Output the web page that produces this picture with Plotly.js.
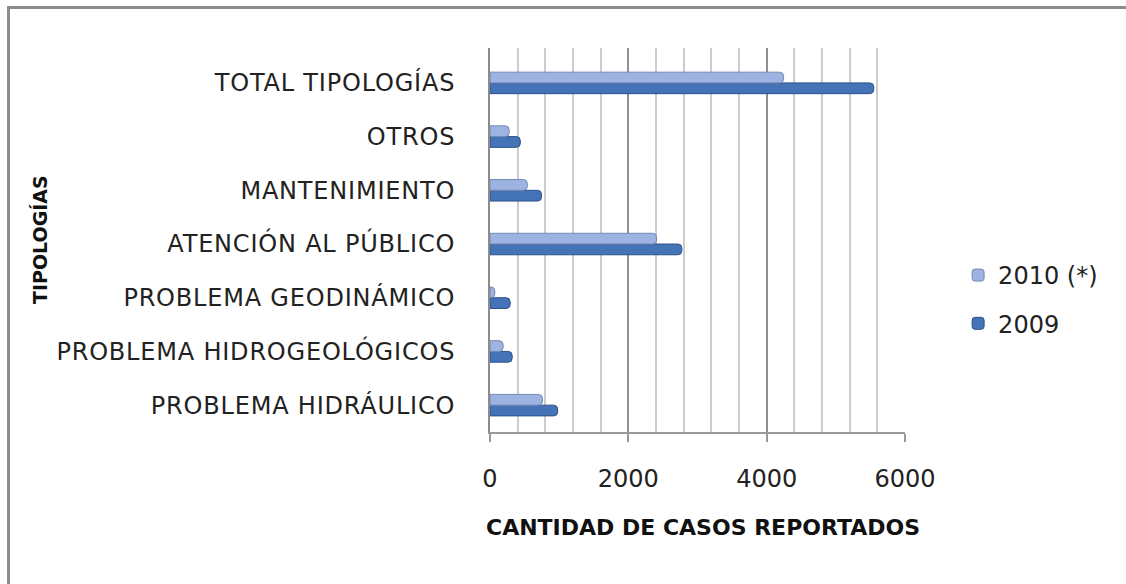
<!DOCTYPE html>
<html>
<head>
<meta charset="utf-8">
<script src="https://cdn.plot.ly/plotly-3.0.1.min.js"></script>
<style>
  html, body { margin: 0; padding: 0; background: #fff; }
  #wrap { position: relative; width: 1126px; height: 584px; overflow: hidden; }
  #chart { position: absolute; left: 0; top: 0; width: 1126px; height: 584px; }
  #frame { position: absolute; left: 7px; top: 6px; width: 1200px; height: 700px;
           border-left: 3px solid #8c8c8c; border-top: 3px solid #8c8c8c; pointer-events: none; }
  .ytick text { letter-spacing: 0.8px; }
</style>
</head>
<body>
<div id="wrap">
  <div id="chart"></div>
  <div id="frame"></div>
</div>
<script>
const categories = [
  "PROBLEMA HIDRÁULICO",
  "PROBLEMA HIDROGEOLÓGICOS",
  "PROBLEMA GEODINÁMICO",
  "ATENCIÓN AL PÚBLICO",
  "MANTENIMIENTO",
  "OTROS",
  "TOTAL TIPOLOGÍAS"
];
const values2009 = [978, 321, 292, 2774, 745, 438, 5548];
const values2010 = [759, 190, 70, 2409, 540, 277, 4245];
const seriesNames = ["2009", "2010 (*)"];
const xTicks = [0, 2000, 4000, 6000];

const font = "DejaVu Sans, sans-serif";

const traces = [
  {
    type: "bar", orientation: "h", name: seriesNames[0],
    y: categories, x: values2009, legendgroup: "a", legendrank: 2,
    marker: { color: "#4573b8", line: { color: "#2c5188", width: 1 }, cornerradius: 4 }
  },
  {
    type: "bar", orientation: "h", name: seriesNames[1],
    y: categories, x: values2010, legendgroup: "b", legendrank: 1,
    marker: { color: "#9db4e2", line: { color: "#7489b3", width: 1 }, cornerradius: 4 }
  }
];

const layout = {
  width: 1126, height: 584,
  margin: { l: 490, r: 221, t: 48, b: 152 },
  paper_bgcolor: "rgba(0,0,0,0)", plot_bgcolor: "rgba(0,0,0,0)",
  barmode: "group", bargap: 0.6, bargroupgap: 0,
  font: { family: font, size: 22, color: "#222" },
  showlegend: true,
  legend: {
    x: 1.128, xanchor: "left", y: 0.345, yanchor: "middle",
    traceorder: "grouped", tracegroupgap: 14,
    font: { family: font, size: 24, color: "#222" },
    itemwidth: 30
  },
  xaxis: {
    range: [0, 6000], tickvals: xTicks, ticktext: xTicks.map(String),
    showgrid: true, gridcolor: "#8f8f8f", gridwidth: 2,
    minor: { dtick: 400, showgrid: true, gridcolor: "#cccccc", gridwidth: 2, ticks: "" },
    zeroline: false,
    showline: true, linecolor: "#9a9a9a", linewidth: 2,
    ticks: "outside", ticklen: 8, tickwidth: 2, tickcolor: "#9a9a9a",
    ticklabelstandoff: 16,
    tickfont: { family: font, size: 24, color: "#222" },
    fixedrange: true
  },
  yaxis: {
    type: "category", categoryorder: "array", categoryarray: categories,
    range: [-0.5, 6.65],
    showgrid: false, zeroline: false,
    showline: true, linecolor: "#8c8c8c", linewidth: 2,
    ticks: "", ticklabelstandoff: 28,
    tickfont: { family: font, size: 24, color: "#222" },
    fixedrange: true
  },
  annotations: [
    {
      text: "<b>CANTIDAD DE CASOS REPORTADOS</b>", xref: "paper", yref: "paper",
      x: (703 - 490) / 415, y: -(527 - 432) / 384, xanchor: "center", yanchor: "middle",
      showarrow: false, font: { family: font, size: 22, color: "#111" }
    },
    {
      text: "<b>TIPOLOGÍAS</b>", xref: "paper", yref: "paper", textangle: -90,
      x: (40 - 490) / 415, y: (432 - 240) / 384, xanchor: "center", yanchor: "middle",
      showarrow: false, font: { family: font, size: 19, color: "#111" }
    }
  ]
};

Plotly.newPlot("chart", traces, layout, { displayModeBar: false, staticPlot: true });
</script>
</body>
</html>
